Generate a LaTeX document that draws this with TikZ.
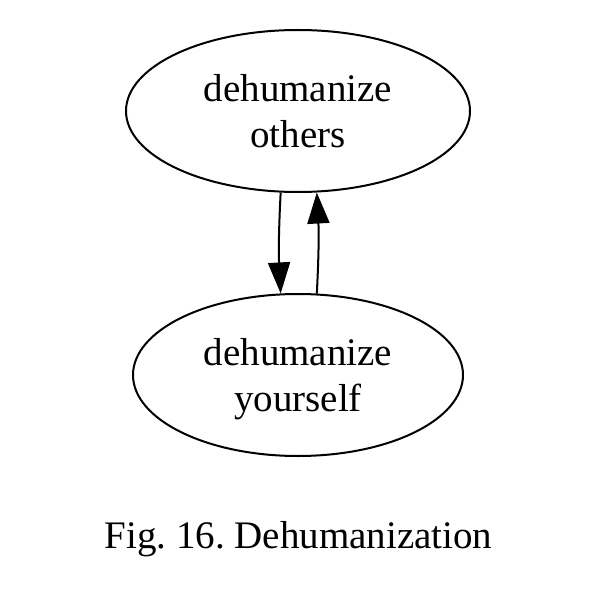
\documentclass[tikz,border=0pt]{standalone}
\usepackage{fontspec}
\setmainfont{Liberation Serif}
\usetikzlibrary{shapes.geometric,arrows.meta}
\frenchspacing
\begin{document}
\begin{tikzpicture}[x=1pt,y=-1pt,
  state/.style={draw,ellipse,line width=2pt,inner sep=0pt,align=center,
    font=\fontsize{39}{46.5}\selectfont},
  conn/.style={line width=2pt,-{Triangle[length=31pt,width=22pt]}},
  lbl/.style={font=\fontsize{39}{46}\selectfont}]
\useasboundingbox (0,0) rectangle (597,615);
\node[state,minimum width=344pt,minimum height=162pt] (a) at (298,111) {dehumanize\\others};
\node[state,minimum width=330pt,minimum height=162pt] (b) at (298,375) {dehumanize\\\raisebox{0pt}[\height][0pt]{yourself}};
\draw[conn] (a.-102) to[bend right=3] (b.102.5);
\draw[conn] (b.77.5) to[bend right=3] (a.-77);
\node[lbl,anchor=base] (cap) at (298.5,548) {Fig. 16. Dehumanization};
\end{tikzpicture}
\end{document}
